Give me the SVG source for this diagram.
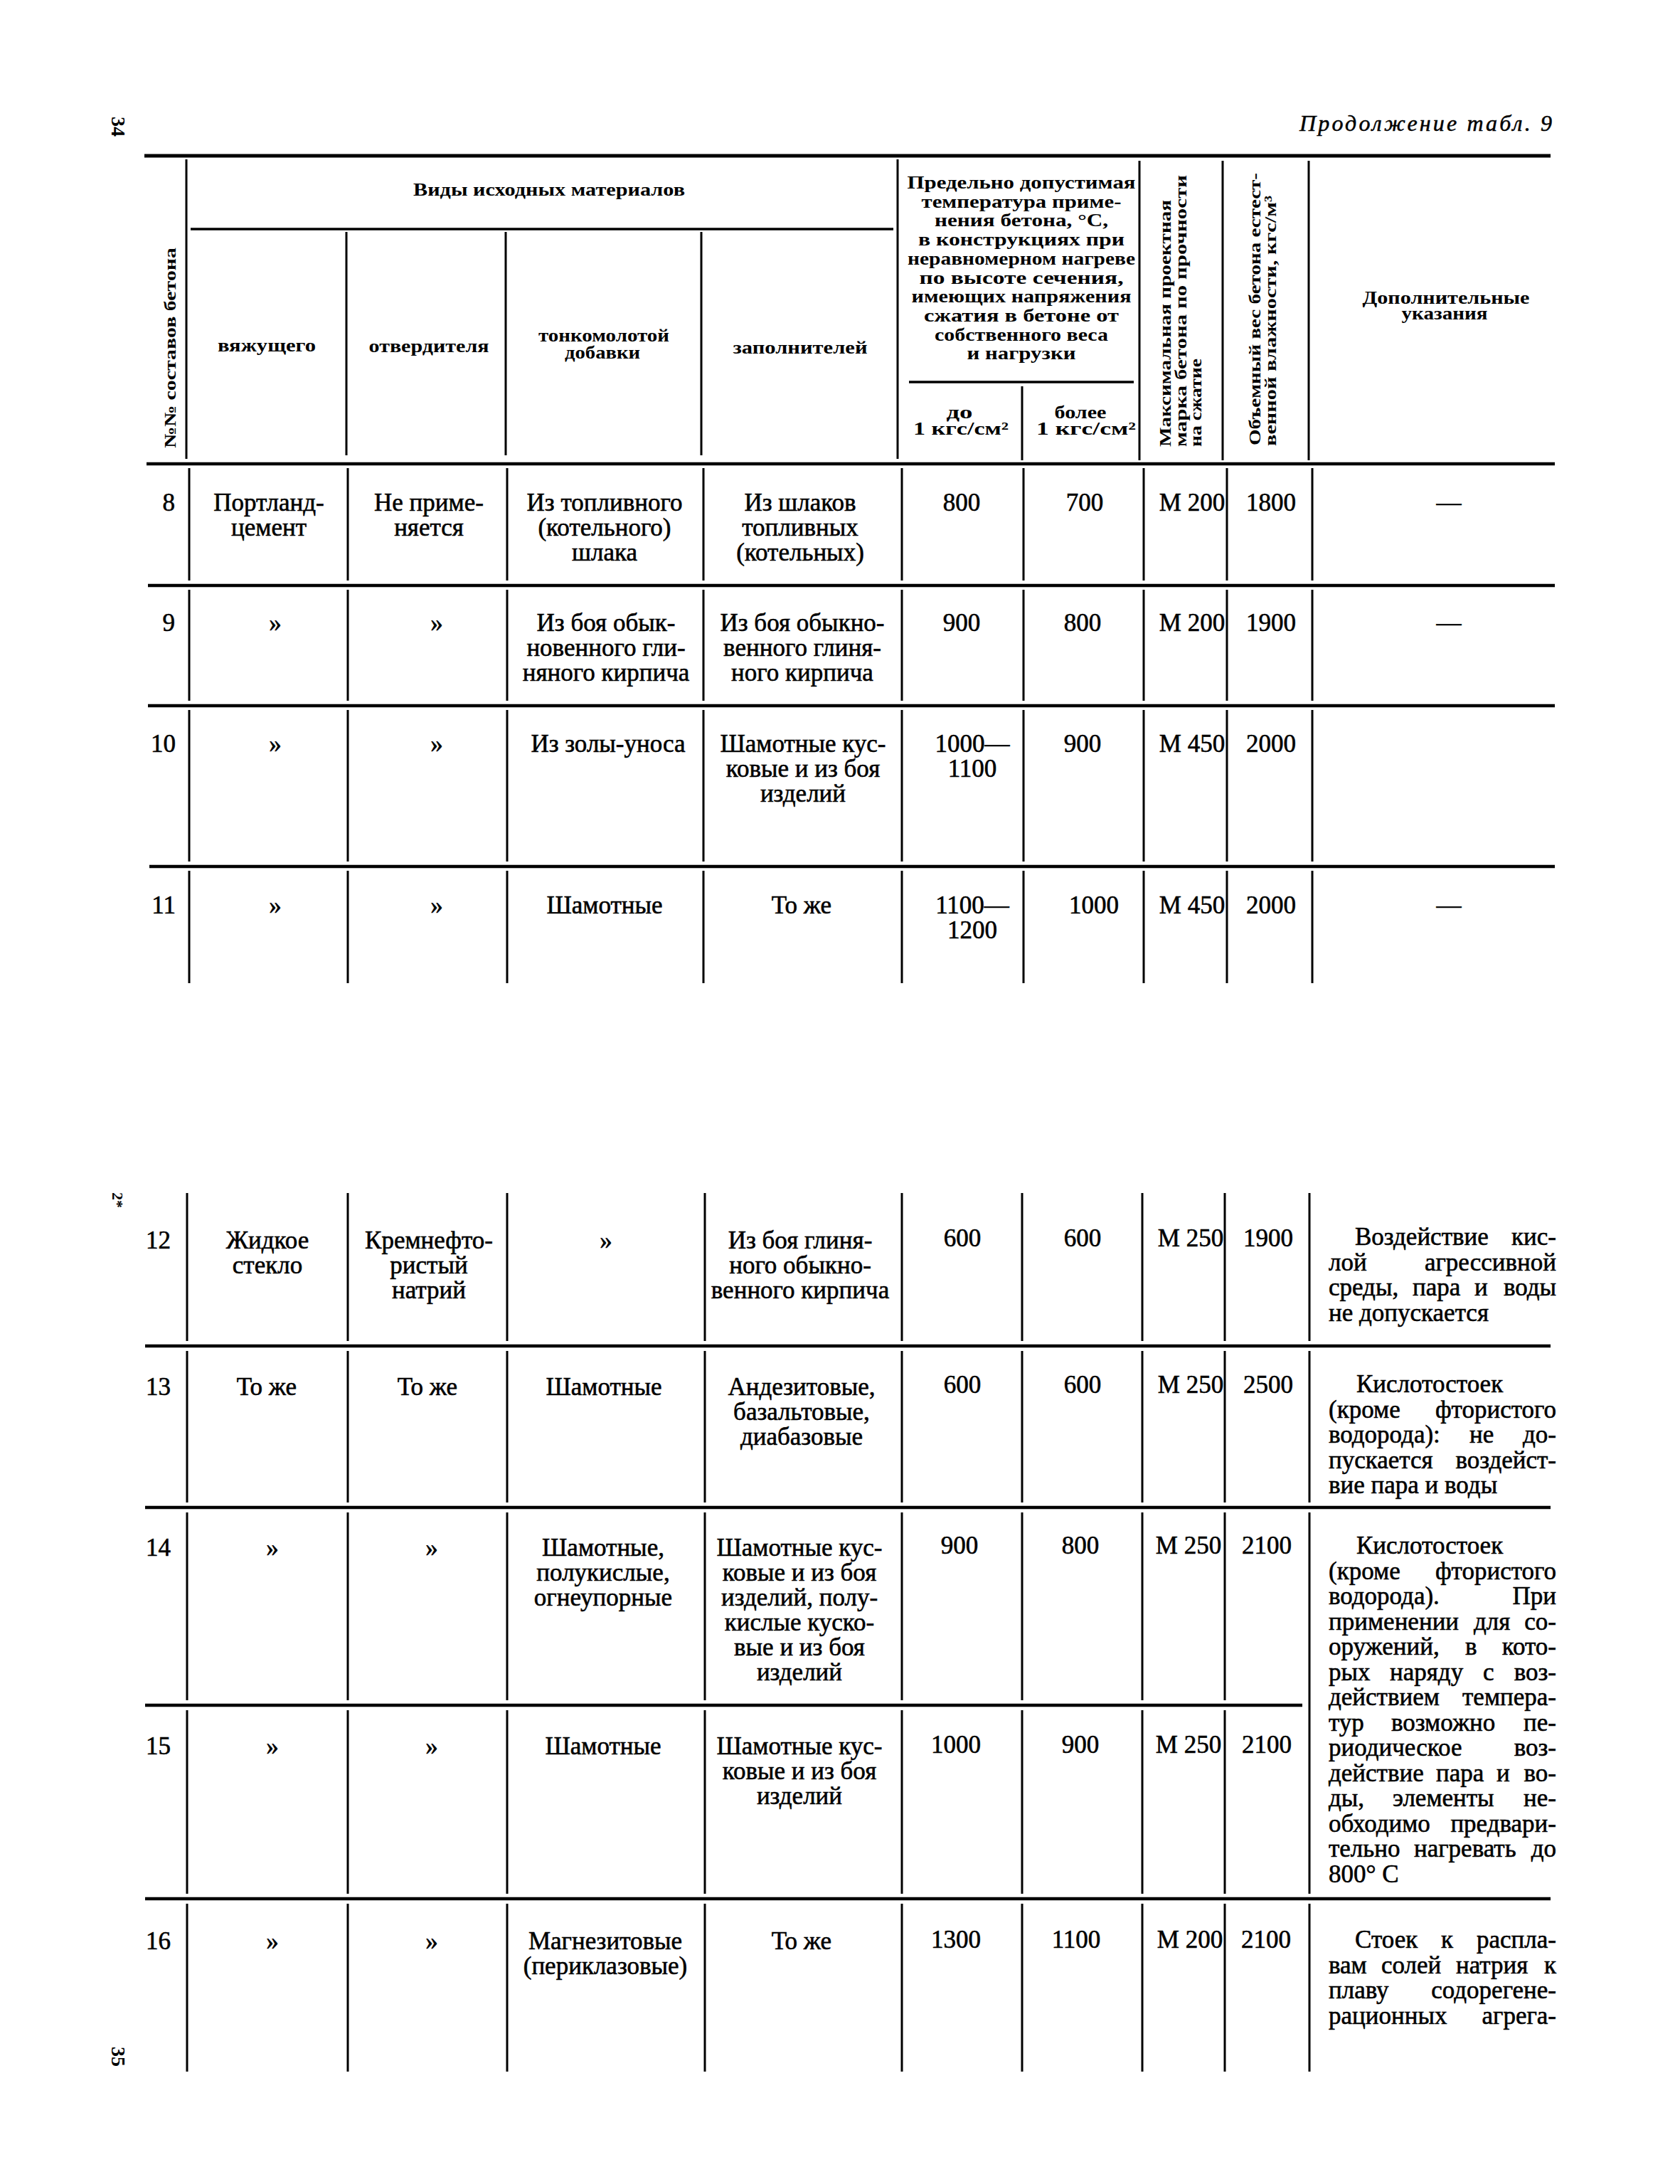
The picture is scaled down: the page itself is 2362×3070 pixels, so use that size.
<svg xmlns="http://www.w3.org/2000/svg" width="2362" height="3070" viewBox="0 0 2362 3070">
<style>
.rule{stroke:#000;stroke-width:4.5;fill:none}
.thin{stroke:#000;stroke-width:3;fill:none}
text{font-family:"Liberation Serif","DejaVu Serif",serif;fill:#000}
.c{font-size:35px;text-anchor:middle;stroke:#000;stroke-width:0.6}
.num{font-size:35px;text-anchor:end;stroke:#000;stroke-width:0.6}
.h{font-size:25px;font-weight:bold;text-anchor:middle}
.hv{font-size:23px;font-weight:bold}
.nt{font-size:35px;stroke:#000;stroke-width:0.6}
.ne{font-size:35px;stroke:#000;stroke-width:0.6;text-anchor:end}
.pg{font-size:28px;font-weight:bold}
.cap{font-size:32px;font-style:italic;text-anchor:end;stroke:#000;stroke-width:0.5}
</style>
<rect x="0" y="0" width="2362" height="3070" fill="#fff"/>

<g id="page-marks">
<text class="pg" transform="translate(157,164) rotate(90)">34</text>
<text class="pg" style="font-size:22px" transform="translate(158,1676) rotate(90)">2*</text>
<text class="pg" transform="translate(157,2877) rotate(90)">35</text>
<text class="cap" x="2182" y="184" textLength="355" lengthAdjust="spacing">Продолжение табл. 9</text>
</g>

<g id="connectors">
<line class="rule" x1="203" y1="219" x2="2180" y2="219" style="stroke-width:5"/>
<line class="thin" x1="268" y1="322" x2="1256" y2="322" style="stroke-width:3.5"/>
<line class="thin" x1="1278" y1="537" x2="1594" y2="537" style="stroke-width:3.5"/>
<line class="rule" x1="206" y1="652" x2="2186" y2="652"/>
<line class="thin" x1="262" y1="224" x2="262" y2="645"/>
<line class="thin" x1="487" y1="326" x2="487" y2="640"/>
<line class="thin" x1="711" y1="326" x2="711" y2="640"/>
<line class="thin" x1="986" y1="326" x2="986" y2="640"/>
<line class="thin" x1="1262" y1="224" x2="1262" y2="645"/>
<line class="thin" x1="1437" y1="543" x2="1437" y2="647"/>
<line class="thin" x1="1602" y1="226" x2="1602" y2="647"/>
<line class="thin" x1="1719" y1="226" x2="1719" y2="647"/>
<line class="thin" x1="1840" y1="226" x2="1840" y2="647"/>

<line class="rule" x1="208" y1="823" x2="2186" y2="823"/>
<line class="rule" x1="208" y1="992" x2="2186" y2="992"/>
<line class="rule" x1="210" y1="1218" x2="2186" y2="1218"/>
<path class="thin" d="M266 658V816M266 829V985M266 998V1211M266 1224V1382
M489 658V816M489 829V985M489 998V1211M489 1224V1382
M713 658V816M713 829V985M713 998V1211M713 1224V1382
M989 658V816M989 829V985M989 998V1211M989 1224V1382
M1268 658V816M1268 829V985M1268 998V1211M1268 1224V1382
M1439 658V816M1439 829V985M1439 998V1211M1439 1224V1382
M1608 658V816M1608 829V985M1608 998V1211M1608 1224V1382
M1725 658V816M1725 829V985M1725 998V1211M1725 1224V1382
M1845 658V816M1845 829V985M1845 998V1211M1845 1224V1382"/>

<line class="rule" x1="204" y1="1892" x2="2180" y2="1892"/>
<line class="rule" x1="204" y1="2119" x2="2180" y2="2119"/>
<line class="rule" x1="204" y1="2397" x2="1831" y2="2397"/>
<line class="rule" x1="204" y1="2669" x2="2180" y2="2669"/>
<path class="thin" d="M263 1677V1885M263 1899V2112M263 2126V2390M263 2404V2662M263 2676V2912
M489 1677V1885M489 1899V2112M489 2126V2390M489 2404V2662M489 2676V2912
M713 1677V1885M713 1899V2112M713 2126V2390M713 2404V2662M713 2676V2912
M991 1677V1885M991 1899V2112M991 2126V2390M991 2404V2662M991 2676V2912
M1268 1677V1885M1268 1899V2112M1268 2126V2390M1268 2404V2662M1268 2676V2912
M1437 1677V1885M1437 1899V2112M1437 2126V2390M1437 2404V2662M1437 2676V2912
M1606 1677V1885M1606 1899V2112M1606 2126V2390M1606 2404V2662M1606 2676V2912
M1722 1677V1885M1722 1899V2112M1722 2126V2390M1722 2404V2662M1722 2676V2912
M1841 1677V1885M1841 1899V2112M1841 2126V2662M1841 2676V2912"/>
</g>

<g id="header">
<text class="hv" transform="translate(247,630) rotate(-90)" textLength="282" lengthAdjust="spacingAndGlyphs">№№ составов бетона</text>
<text class="h" x="772" y="275" textLength="382" lengthAdjust="spacingAndGlyphs">Виды исходных материалов</text>
<text class="h" x="375" y="494" textLength="138" lengthAdjust="spacingAndGlyphs">вяжущего</text>
<text class="h" x="603" y="495" textLength="169" lengthAdjust="spacingAndGlyphs">отвердителя</text>
<text class="h" x="849" y="480" textLength="184" lengthAdjust="spacingAndGlyphs">тонкомолотой</text>
<text class="h" x="847" y="504" textLength="106" lengthAdjust="spacingAndGlyphs">добавки</text>
<text class="h" x="1125" y="497" textLength="189" lengthAdjust="spacingAndGlyphs">заполнителей</text>
<g id="hdr-temp">
<text class="h" x="1436" y="265" textLength="321" lengthAdjust="spacingAndGlyphs">Предельно допустимая</text>
<text class="h" x="1436" y="291.7" textLength="281" lengthAdjust="spacingAndGlyphs">температура приме-</text>
<text class="h" x="1436" y="318.4" textLength="244" lengthAdjust="spacingAndGlyphs">нения бетона, °С,</text>
<text class="h" x="1436" y="345.1" textLength="290" lengthAdjust="spacingAndGlyphs">в конструкциях при</text>
<text class="h" x="1436" y="371.8" textLength="320" lengthAdjust="spacingAndGlyphs">неравномерном нагреве</text>
<text class="h" x="1436" y="398.5" textLength="287" lengthAdjust="spacingAndGlyphs">по высоте сечения,</text>
<text class="h" x="1436" y="425.2" textLength="309" lengthAdjust="spacingAndGlyphs">имеющих напряжения</text>
<text class="h" x="1436" y="451.9" textLength="274" lengthAdjust="spacingAndGlyphs">сжатия в бетоне от</text>
<text class="h" x="1436" y="478.6" textLength="244" lengthAdjust="spacingAndGlyphs">собственного веса</text>
<text class="h" x="1436" y="505.3" textLength="153" lengthAdjust="spacingAndGlyphs">и нагрузки</text>
<text class="h" x="1349" y="588" textLength="37" lengthAdjust="spacingAndGlyphs">до</text>
<text class="h" x="1351" y="611" textLength="134" lengthAdjust="spacingAndGlyphs">1 кгс/см²</text>
<text class="h" x="1519" y="588" textLength="73" lengthAdjust="spacingAndGlyphs">более</text>
<text class="h" x="1527" y="611" textLength="140" lengthAdjust="spacingAndGlyphs">1 кгс/см²</text>
</g>
<text class="hv" transform="translate(1646,628) rotate(-90)" textLength="347" lengthAdjust="spacingAndGlyphs">Максимальная проектная</text>
<text class="hv" transform="translate(1668,628) rotate(-90)" textLength="382" lengthAdjust="spacingAndGlyphs">марка бетона по прочности</text>
<text class="hv" transform="translate(1689,628) rotate(-90)" textLength="124" lengthAdjust="spacingAndGlyphs">на сжатие</text>
<text class="hv" transform="translate(1772,626) rotate(-90)" textLength="383" lengthAdjust="spacingAndGlyphs">Объемный вес бетона естест-</text>
<text class="hv" transform="translate(1794,627) rotate(-90)" textLength="352" lengthAdjust="spacingAndGlyphs">венной влажности, кгс/м³</text>
<text class="h" x="2033" y="427" textLength="235" lengthAdjust="spacingAndGlyphs">Дополнительные</text>
<text class="h" x="2031" y="449" textLength="121" lengthAdjust="spacingAndGlyphs">указания</text>
</g>

<g id="row-8">
<text class="num" x="246" y="718">8</text>
<text class="c" x="378" y="718"><tspan x="378">Портланд-</tspan><tspan x="378" dy="35">цемент</tspan></text>
<text class="c" x="603" y="718"><tspan x="603">Не приме-</tspan><tspan x="603" dy="35">няется</tspan></text>
<text class="c" x="850" y="718"><tspan x="850">Из топливного</tspan><tspan x="850" dy="35">(котельного)</tspan><tspan x="850" dy="35">шлака</tspan></text>
<text class="c" x="1125" y="718"><tspan x="1125">Из шлаков</tspan><tspan x="1125" dy="35">топливных</tspan><tspan x="1125" dy="35">(котельных)</tspan></text>
<text class="c" x="1352" y="718">800</text>
<text class="c" x="1525" y="718">700</text>
<text class="c" x="1676" y="718">М 200</text>
<text class="c" x="1787" y="718">1800</text>
<text class="c" x="2037" y="718">—</text>
</g>

<g id="row-9">
<text class="num" x="246" y="887">9</text>
<text class="c" x="387" y="887">»</text>
<text class="c" x="614" y="887">»</text>
<text class="c" x="852" y="887"><tspan x="852">Из боя обык-</tspan><tspan x="852" dy="35">новенного гли-</tspan><tspan x="852" dy="35">няного кирпича</tspan></text>
<text class="c" x="1128" y="887"><tspan x="1128">Из боя обыкно-</tspan><tspan x="1128" dy="35">венного глиня-</tspan><tspan x="1128" dy="35">ного кирпича</tspan></text>
<text class="c" x="1352" y="887">900</text>
<text class="c" x="1522" y="887">800</text>
<text class="c" x="1676" y="887">М 200</text>
<text class="c" x="1787" y="887">1900</text>
<text class="c" x="2037" y="887">—</text>
</g>

<g id="row-10">
<text class="num" x="247" y="1057">10</text>
<text class="c" x="387" y="1057">»</text>
<text class="c" x="614" y="1057">»</text>
<text class="c" x="855" y="1057">Из золы-уноса</text>
<text class="c" x="1129" y="1057"><tspan x="1129">Шамотные кус-</tspan><tspan x="1129" dy="35">ковые и из боя</tspan><tspan x="1129" dy="35">изделий</tspan></text>
<text class="c" x="1367" y="1057"><tspan x="1367">1000—</tspan><tspan x="1367" dy="35">1100</tspan></text>
<text class="c" x="1522" y="1057">900</text>
<text class="c" x="1676" y="1057">М 450</text>
<text class="c" x="1787" y="1057">2000</text>
</g>

<g id="row-11">
<text class="num" x="247" y="1284">11</text>
<text class="c" x="387" y="1284">»</text>
<text class="c" x="614" y="1284">»</text>
<text class="c" x="850" y="1284">Шамотные</text>
<text class="c" x="1127" y="1284">То же</text>
<text class="c" x="1367" y="1284"><tspan x="1367">1100—</tspan><tspan x="1367" dy="35">1200</tspan></text>
<text class="c" x="1538" y="1284">1000</text>
<text class="c" x="1676" y="1284">М 450</text>
<text class="c" x="1787" y="1284">2000</text>
<text class="c" x="2037" y="1284">—</text>
</g>

<g id="row-12">
<text class="num" x="240" y="1755">12</text>
<text class="c" x="376" y="1755"><tspan x="376">Жидкое</tspan><tspan x="376" dy="35">стекло</tspan></text>
<text class="c" x="603" y="1755"><tspan x="603">Кремнефто-</tspan><tspan x="603" dy="35">ристый</tspan><tspan x="603" dy="35">натрий</tspan></text>
<text class="c" x="852" y="1755">»</text>
<text class="c" x="1125" y="1755"><tspan x="1125">Из боя глиня-</tspan><tspan x="1125" dy="35">ного обыкно-</tspan><tspan x="1125" dy="35">венного кирпича</tspan></text>
<text class="c" x="1353" y="1752">600</text>
<text class="c" x="1522" y="1752">600</text>
<text class="c" x="1674" y="1752">М 250</text>
<text class="c" x="1783" y="1752">1900</text>
<g id="notes-12">
<text class="nt" x="1905" y="1750">Воздействие</text><text class="ne" x="2188" y="1750">кис-</text>
<text class="nt" x="1868" y="1785.5">лой</text><text class="ne" x="2188" y="1785.5">агрессивной</text>
<text class="nt" x="1868" y="1821">среды,</text><text class="nt" x="1986" y="1821">пара</text><text class="nt" x="2073" y="1821">и</text><text class="ne" x="2188" y="1821">воды</text>
<text class="nt" x="1868" y="1856.5">не допускается</text>
</g>
</g>

<g id="row-13">
<text class="num" x="240" y="1961">13</text>
<text class="c" x="375" y="1961">То же</text>
<text class="c" x="601" y="1961">То же</text>
<text class="c" x="849" y="1961">Шамотные</text>
<text class="c" x="1127" y="1961"><tspan x="1127">Андезитовые,</tspan><tspan x="1127" dy="35">базальтовые,</tspan><tspan x="1127" dy="35">диабазовые</tspan></text>
<text class="c" x="1353" y="1958">600</text>
<text class="c" x="1522" y="1958">600</text>
<text class="c" x="1674" y="1958">М 250</text>
<text class="c" x="1783" y="1958">2500</text>
<g id="notes-13">
<text class="nt" x="1907" y="1957">Кислотостоек</text>
<text class="nt" x="1868" y="1992.5">(кроме</text><text class="ne" x="2188" y="1992.5">фтористого</text>
<text class="nt" x="1868" y="2028">водорода):</text><text class="nt" x="2066" y="2028">не</text><text class="ne" x="2188" y="2028">до-</text>
<text class="nt" x="1868" y="2063.5">пускается</text><text class="ne" x="2188" y="2063.5">воздейст-</text>
<text class="nt" x="1868" y="2099">вие пара и воды</text>
</g>
</g>

<g id="row-14">
<text class="num" x="240" y="2187">14</text>
<text class="c" x="383" y="2187">»</text>
<text class="c" x="607" y="2187">»</text>
<text class="c" x="848" y="2187"><tspan x="848">Шамотные,</tspan><tspan x="848" dy="35">полукислые,</tspan><tspan x="848" dy="35">огнеупорные</tspan></text>
<text class="c" x="1124" y="2187"><tspan x="1124">Шамотные кус-</tspan><tspan x="1124" dy="35">ковые и из боя</tspan><tspan x="1124" dy="35">изделий, полу-</tspan><tspan x="1124" dy="35">кислые куско-</tspan><tspan x="1124" dy="35">вые и из боя</tspan><tspan x="1124" dy="35">изделий</tspan></text>
<text class="c" x="1349" y="2184">900</text>
<text class="c" x="1519" y="2184">800</text>
<text class="c" x="1671" y="2184">М 250</text>
<text class="c" x="1781" y="2184">2100</text>
</g>

<g id="notes-14-15">
<text class="nt" x="1907" y="2184">Кислотостоек</text>
<text class="nt" x="1868" y="2219.5">(кроме</text><text class="ne" x="2188" y="2219.5">фтористого</text>
<text class="nt" x="1868" y="2255">водорода).</text><text class="ne" x="2188" y="2255">При</text>
<text class="nt" x="1868" y="2290.5">применении</text><text class="nt" x="2072" y="2290.5">для</text><text class="ne" x="2188" y="2290.5">со-</text>
<text class="nt" x="1868" y="2326">оружений,</text><text class="nt" x="2060" y="2326">в</text><text class="ne" x="2188" y="2326">кото-</text>
<text class="nt" x="1868" y="2361.5">рых</text><text class="nt" x="1954" y="2361.5">наряду</text><text class="nt" x="2085" y="2361.5">с</text><text class="ne" x="2188" y="2361.5">воз-</text>
<text class="nt" x="1868" y="2397">действием</text><text class="ne" x="2188" y="2397">темпера-</text>
<text class="nt" x="1868" y="2432.5">тур</text><text class="nt" x="1956" y="2432.5">возможно</text><text class="ne" x="2188" y="2432.5">пе-</text>
<text class="nt" x="1868" y="2468">риодическое</text><text class="ne" x="2188" y="2468">воз-</text>
<text class="nt" x="1868" y="2503.5">действие</text><text class="nt" x="2019" y="2503.5">пара</text><text class="nt" x="2104" y="2503.5">и</text><text class="ne" x="2188" y="2503.5">во-</text>
<text class="nt" x="1868" y="2539">ды,</text><text class="nt" x="1958" y="2539">элементы</text><text class="ne" x="2188" y="2539">не-</text>
<text class="nt" x="1868" y="2574.5">обходимо</text><text class="ne" x="2188" y="2574.5">предвари-</text>
<text class="nt" x="1868" y="2610">тельно</text><text class="nt" x="1988" y="2610">нагревать</text><text class="ne" x="2188" y="2610">до</text>
<text class="nt" x="1868" y="2645.5">800° С</text>
</g>

<g id="row-15">
<text class="num" x="240" y="2466">15</text>
<text class="c" x="383" y="2466">»</text>
<text class="c" x="607" y="2466">»</text>
<text class="c" x="848" y="2466">Шамотные</text>
<text class="c" x="1124" y="2466"><tspan x="1124">Шамотные кус-</tspan><tspan x="1124" dy="35">ковые и из боя</tspan><tspan x="1124" dy="35">изделий</tspan></text>
<text class="c" x="1344" y="2464">1000</text>
<text class="c" x="1519" y="2464">900</text>
<text class="c" x="1671" y="2464">М 250</text>
<text class="c" x="1781" y="2464">2100</text>
</g>

<g id="row-16">
<text class="num" x="240" y="2740">16</text>
<text class="c" x="383" y="2740">»</text>
<text class="c" x="607" y="2740">»</text>
<text class="c" x="851" y="2740"><tspan x="851">Магнезитовые</tspan><tspan x="851" dy="35">(периклазовые)</tspan></text>
<text class="c" x="1127" y="2740">То же</text>
<text class="c" x="1344" y="2738">1300</text>
<text class="c" x="1513" y="2738">1100</text>
<text class="c" x="1673" y="2738">М 200</text>
<text class="c" x="1780" y="2738">2100</text>
<g id="notes-16">
<text class="nt" x="1905" y="2738">Стоек</text><text class="nt" x="2026" y="2738">к</text><text class="ne" x="2188" y="2738">распла-</text>
<text class="nt" x="1868" y="2773.5">вам</text><text class="nt" x="1942" y="2773.5">солей</text><text class="nt" x="2047" y="2773.5">натрия</text><text class="ne" x="2188" y="2773.5">к</text>
<text class="nt" x="1868" y="2809">плаву</text><text class="ne" x="2188" y="2809">содорегене-</text>
<text class="nt" x="1868" y="2844.5">рационных</text><text class="ne" x="2188" y="2844.5">агрега-</text>
</g>
</g>
</svg>
